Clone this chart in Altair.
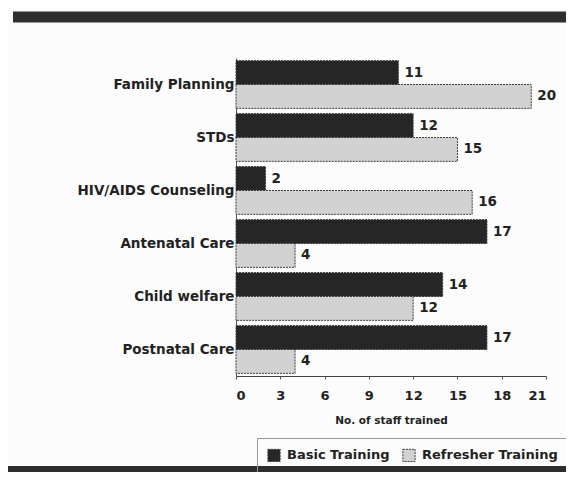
import altair as alt
import pandas as pd

categories = ["Family Planning", "STDs", "HIV/AIDS Counseling",
              "Antenatal Care", "Child welfare", "Postnatal Care"]
series = ["Basic Training", "Refresher Training"]
basic = [11, 12, 2, 17, 14, 17]
refresher = [20, 15, 16, 4, 12, 4]
x_ticks = [0, 3, 6, 9, 12, 15, 18, 21]

rows = []
for c, b, r in zip(categories, basic, refresher):
    rows.append({"category": c, "series": series[0], "value": b})
    rows.append({"category": c, "series": series[1], "value": r})
df = pd.DataFrame(rows)

FONT = "DejaVu Sans"

y_enc = alt.Y("category:N", sort=categories,
              scale=alt.Scale(paddingInner=0.1, paddingOuter=0.05),
              axis=alt.Axis(title=None, labelFont=FONT, labelFontWeight="bold",
                            labelFontSize=13.5, labelColor="#222", labelPadding=2,
                            ticks=False, domainColor="#555", labelLimit=300))
yoff = alt.YOffset("series:N", sort=series,
                   scale=alt.Scale(paddingInner=0, paddingOuter=0))
x_enc = alt.X("value:Q", scale=alt.Scale(domain=[0, 21], nice=False),
              axis=alt.Axis(values=x_ticks, title="No. of staff trained",
                            labelFont=FONT, labelFontWeight="bold", labelFontSize=13,
                            labelColor="#222", tickSize=3, tickColor="#555",
                            domainColor="#444", labelPadding=10, grid=False,
                            titleFont=FONT, titleFontWeight="bold", titleFontSize=10.5,
                            titleColor="#222", titlePadding=13))

bars = alt.Chart(df).mark_bar(stroke="#3a3a3a", strokeWidth=1, strokeDash=[2, 1]).encode(
    y=y_enc, yOffset=yoff, x=x_enc,
    color=alt.Color("series:N", sort=series,
                    scale=alt.Scale(domain=series, range=["#262626", "#d2d2d2"]),
                    legend=alt.Legend(title=None, orient="none", legendX=21, legendY=380,
                                      direction="horizontal", strokeColor="#999",
                                      padding=10,
                                      symbolType="square", symbolSize=150,
                                      symbolStrokeColor="#3a3a3a", symbolStrokeWidth=1,
                                      symbolDash=[2, 1],
                                      labelFont=FONT, labelFontWeight="bold",
                                      labelFontSize=13, labelColor="#222",
                                      labelOffset=6, columnPadding=10, labelLimit=300)),
)

labels = alt.Chart(df).mark_text(align="left", dx=6, font=FONT, fontWeight="bold",
                                 fontSize=13.5, color="#222").encode(
    y=alt.Y("category:N", sort=categories), yOffset=yoff,
    x=alt.X("value:Q"), text="value:Q")

band_df = pd.DataFrame({"k": [0]})
top_band = alt.Chart(band_df).mark_rule(color="#2e2e2e", strokeWidth=11).encode(
    x=alt.value(-223), x2=alt.value(340), y=alt.value(-41))
bottom_band = alt.Chart(band_df).mark_rule(color="#2e2e2e", strokeWidth=6).encode(
    x=alt.value(-230), x2=alt.value(340), y=alt.value(411))

chart = alt.layer(bars, labels, top_band, bottom_band).properties(
    width=310, height=318,
    autosize=alt.AutoSizeParams(type="none"),
    padding={"left": 228, "top": 50, "right": 20, "bottom": 96},
    background="#fcfcfc",
).configure_view(stroke=None)

chart.save("out.html", embed_options={"renderer": "svg", "actions": False})
